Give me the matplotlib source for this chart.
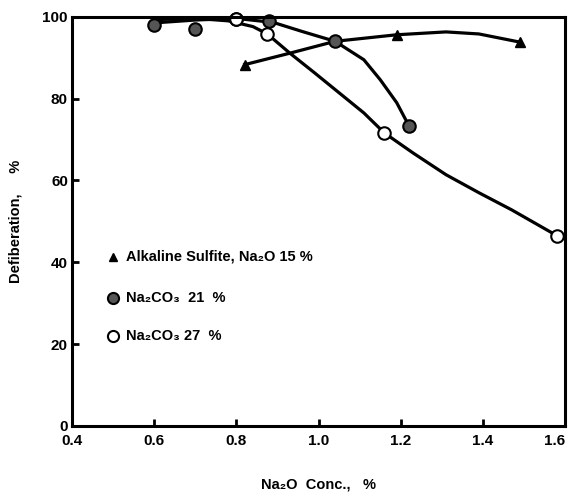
import numpy as np
import matplotlib
matplotlib.use('Agg')
import matplotlib.pyplot as plt

plt.rcParams['font.family'] = ['Liberation Sans', 'DejaVu Sans']
plt.rcParams['font.weight'] = 'bold'

''' measured points '''
x_sulf = [0.82, 1.19, 1.49]
y_sulf = [88.3, 95.6, 93.8]

x_c21 = [0.60, 0.70, 0.80, 0.88, 1.04, 1.22]
y_c21 = [98.0, 97.0, 99.5, 99.0, 94.0, 73.3]

x_c27 = [0.80, 0.875, 1.16, 1.58]
y_c27 = [99.5, 95.8, 71.6, 46.5]

''' hand drawn curves, read off the picture '''
cx_sulf = [0.82, 0.93, 1.04, 1.19, 1.31, 1.39, 1.49]
cy_sulf = [88.3, 91.1, 94.0, 95.6, 96.3, 95.8, 93.8]

cx_c21 = [0.60, 0.70, 0.80, 0.89, 0.96, 1.04, 1.11, 1.15, 1.19, 1.22]
cy_c21 = [98.5, 99.2, 99.6, 98.6, 96.4, 94.0, 89.5, 84.6, 79.0, 73.3]

cx_c27 = [0.60, 0.70, 0.78, 0.84, 0.875, 0.93, 0.99, 1.05, 1.11, 1.16,
          1.23, 1.31, 1.39, 1.47, 1.58]
cy_c27 = [99.3, 99.6, 99.0, 97.6, 95.8, 91.1, 86.3, 81.4, 76.5, 71.6,
          66.7, 61.4, 57.0, 52.8, 46.5]

legend_labels = ['Alkaline Sulfite, Na\u2082O 15 %',
                 'Na\u2082CO\u2083  21  %',
                 'Na\u2082CO\u2083 27  %']
legend_y = [41.3, 31.3, 22.0]

fig = plt.figure(figsize=(5.68, 4.93), dpi=100)
ax = fig.add_axes([0.127, 0.136, 0.868, 0.830])

lw = 2.3
ax.plot(cx_sulf, cy_sulf, 'k-', lw=lw, solid_joinstyle='round')
ax.plot(cx_c21, cy_c21, 'k-', lw=lw, solid_joinstyle='round')
ax.plot(cx_c27, cy_c27, 'k-', lw=lw, solid_joinstyle='round')

ax.plot(x_sulf, y_sulf, 'k^', ms=7, ls='none', clip_on=False)
ax.plot(x_c21, y_c21, 'o', ms=9, mfc='#555555', mec='k', mew=1.5, ls='none', clip_on=False)
ax.plot(x_c27, y_c27, 'o', ms=9, mfc='white', mec='k', mew=1.5, ls='none', clip_on=False)

# legend drawn as text inside the axes
mk = [dict(marker='^', ms=6, color='k'),
      dict(marker='o', ms=8, mfc='#555555', mec='k', mew=1.5),
      dict(marker='o', ms=8, mfc='white', mec='k', mew=1.5)]
for lab, yy, m in zip(legend_labels, legend_y, mk):
    ax.plot([0.50], [yy], ls='none', **m)
    ax.text(0.53, yy, lab, fontsize=10.5, fontweight='bold', va='center')

ax.set_xlim(0.4, 1.6)
ax.set_ylim(0, 100)
ax.set_xticks([0.4, 0.6, 0.8, 1.0, 1.2, 1.4, 1.6])
ax.set_xticklabels(['0.4', '0.6', '0.8', '1.0', '1.2', '1.4', '1.6'])
ax.set_yticks([0, 20, 40, 60, 80, 100])
ax.tick_params(direction='in', length=5, width=2, labelsize=11, pad=3)
ax.tick_params(axis='x', pad=6)
for lbl in ax.get_xticklabels() + ax.get_yticklabels():
    lbl.set_fontweight('bold')
ax.get_xticklabels()[-1].set_horizontalalignment('right')
for s in ax.spines.values():
    s.set_linewidth(2.2)

ax.set_xlabel('Na\u2082O  Conc.,   %', fontsize=10.5, fontweight='bold')
ax.xaxis.set_label_coords(0.5, -0.125)
ax.set_ylabel('Defiberation,     %', fontsize=10.5, fontweight='bold')
ax.yaxis.set_label_coords(-0.1, 0.5)

plt.savefig('out.png', dpi=100)
